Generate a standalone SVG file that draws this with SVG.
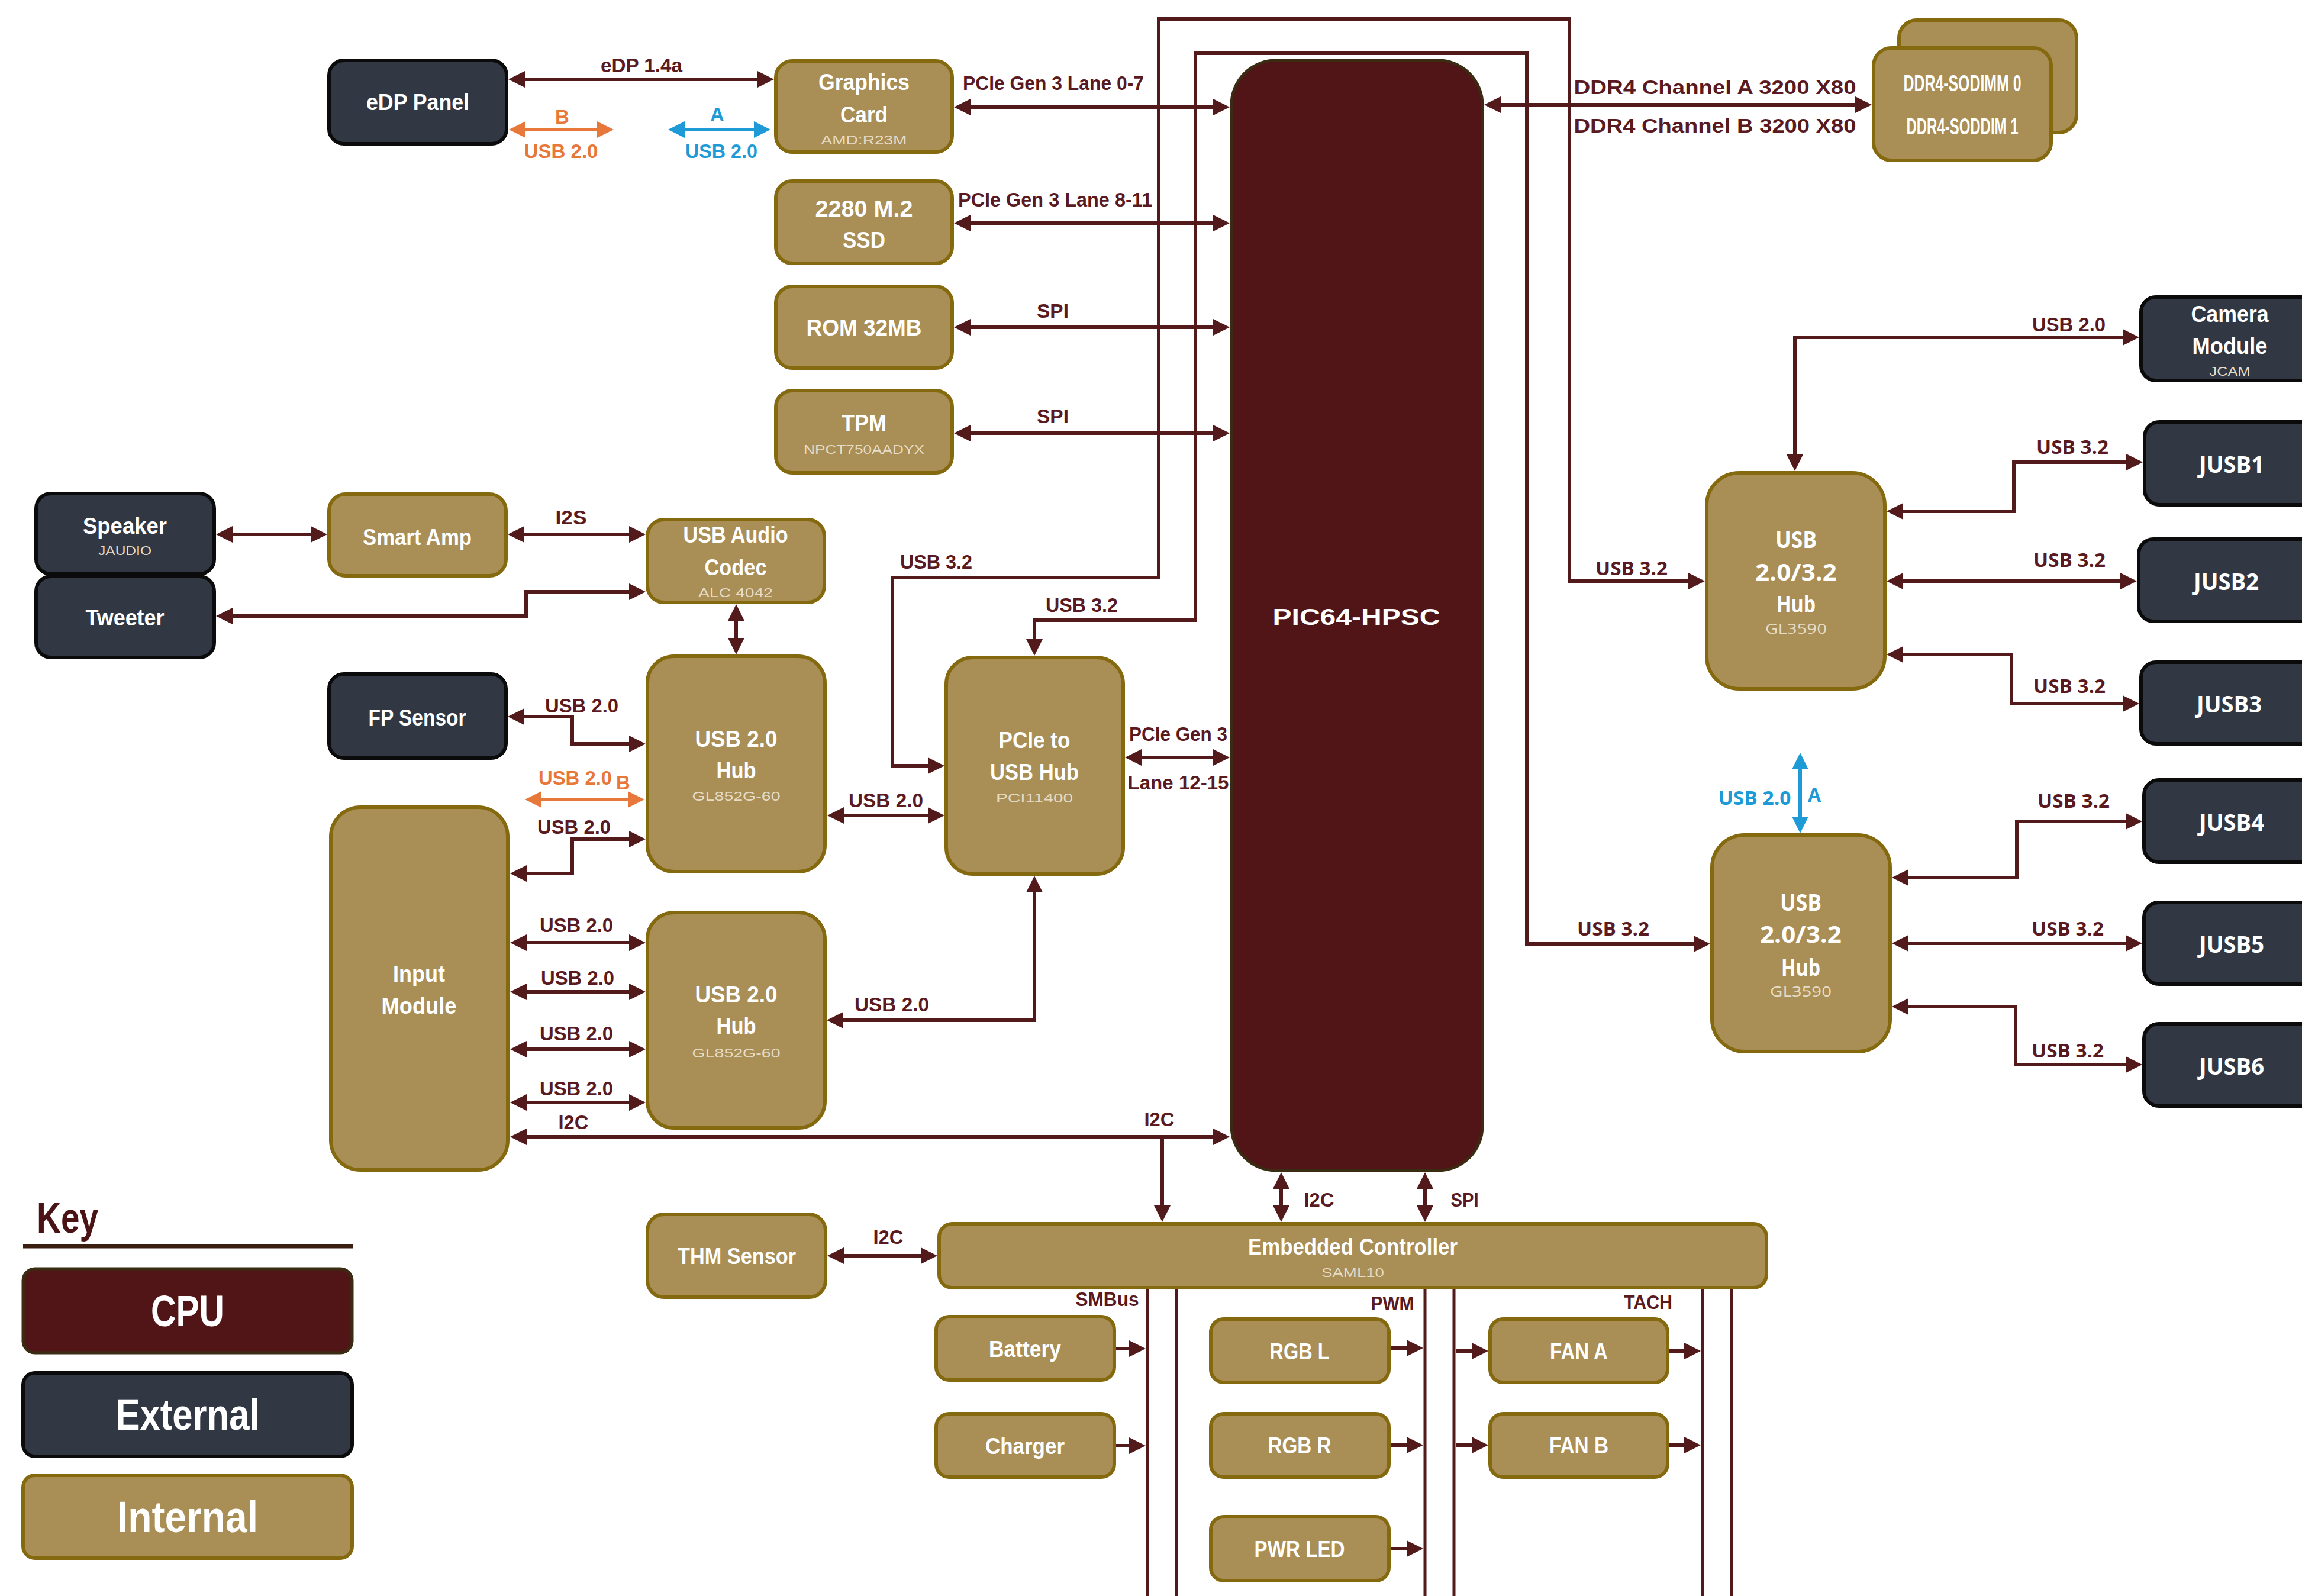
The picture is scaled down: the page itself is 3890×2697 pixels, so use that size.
<svg xmlns="http://www.w3.org/2000/svg" width="3890" height="2697" viewBox="0 0 3890 2697">
<defs>
<style>
.int{fill:#a98e55;stroke:#85690f;stroke-width:6}
.ext{fill:#313843;stroke:#0b0b0b;stroke-width:6}
.cpu{fill:#511417;stroke:#3a2c12;stroke-width:5}
.c{fill:none;stroke:#531a1c;stroke-width:6;marker-start:url(#ah);marker-end:url(#ah)}
.c1{fill:none;stroke:#531a1c;stroke-width:6;marker-end:url(#ah)}
.co{fill:none;stroke:#e8773a;stroke-width:6;marker-start:url(#ao);marker-end:url(#ao)}
.cb{fill:none;stroke:#1e9bd7;stroke-width:6;marker-start:url(#ab);marker-end:url(#ab)}
.bus{fill:none;stroke:#531a1c;stroke-width:5}
.t{font-family:"Liberation Sans",Arial,sans-serif;font-weight:bold;fill:#ffffff;text-anchor:middle;dominant-baseline:central;font-size:39px}
.s{font-family:"Liberation Sans",Arial,sans-serif;font-weight:normal;fill:#e6dcc6;text-anchor:middle;dominant-baseline:central;font-size:22px}
.l{font-family:"Liberation Sans",Arial,sans-serif;font-weight:bold;fill:#5a1a1f;text-anchor:middle;dominant-baseline:central;font-size:33px}
.w{font-family:"Open Sans","DejaVu Sans",sans-serif;font-weight:bold;fill:#ffffff;text-anchor:middle;dominant-baseline:central;font-size:40px}
.ws{font-family:"Open Sans","DejaVu Sans",sans-serif;font-weight:normal;fill:#e6dcc6;text-anchor:middle;dominant-baseline:central;font-size:24px}
.wl{font-family:"Open Sans","DejaVu Sans",sans-serif;font-weight:bold;fill:#5a1a1f;text-anchor:middle;dominant-baseline:central;font-size:32px}
.or{fill:#e8773a}
.bl{fill:#1e9bd7}
.k{font-size:74px}
</style>
<marker id="ah" viewBox="0 0 28 28" refX="22" refY="14" markerWidth="28" markerHeight="28" markerUnits="userSpaceOnUse" orient="auto-start-reverse"><path d="M0,0 L28,14 L0,28 z" fill="#531a1c"/></marker>
<marker id="ao" viewBox="0 0 28 28" refX="22" refY="14" markerWidth="28" markerHeight="28" markerUnits="userSpaceOnUse" orient="auto-start-reverse"><path d="M0,0 L28,14 L0,28 z" fill="#e8773a"/></marker>
<marker id="ab" viewBox="0 0 28 28" refX="22" refY="14" markerWidth="28" markerHeight="28" markerUnits="userSpaceOnUse" orient="auto-start-reverse"><path d="M0,0 L28,14 L0,28 z" fill="#1e9bd7"/></marker>
</defs>
<rect x="0" y="0" width="3890" height="2697" fill="#ffffff"/>

<g id="connectors">
<path class="c" d="M865,134 H1302"/>
<path class="co" d="M866,219 H1031"/>
<path class="cb" d="M1135,219 H1296"/>
<path class="c" d="M1618,181 H2072"/>
<path class="c" d="M1618,377 H2072"/>
<path class="c" d="M1618,553 H2072"/>
<path class="c" d="M1618,732 H2072"/>
<path class="c" d="M2514,177 H3157"/>
<path class="c" d="M1590,1294 H1508 V976 H1958 V32 H2652 V982 H2875"/>
<path class="c" d="M1748,1102 V1048 H2020 V90 H2580 V1595 H2884"/>
<path class="c" d="M3033,790 V570 H3609"/>
<path class="c" d="M3194,864 H3403 V781 H3615"/>
<path class="c" d="M3194,982 H3605"/>
<path class="c" d="M3194,1106 H3399 V1189 H3609"/>
<path class="c" d="M3203,1483 H3408 V1388 H3614"/>
<path class="c" d="M3203,1594 H3614"/>
<path class="c" d="M3203,1701 H3406 V1799 H3614"/>
<path class="cb" d="M3042,1278 V1402"/>
<path class="c" d="M371,903 H547"/>
<path class="c" d="M864,903 H1085"/>
<path class="c" d="M1085,1000 H889 V1041 H371"/>
<path class="c" d="M1244,1027 V1100"/>
<path class="c" d="M864,1211 H967 V1257 H1085"/>
<path class="co" d="M893,1351 H1083"/>
<path class="c" d="M1085,1418 H967 V1476 H868"/>
<path class="c" d="M868,1593 H1085"/>
<path class="c" d="M868,1676 H1085"/>
<path class="c" d="M868,1773 H1085"/>
<path class="c" d="M868,1863 H1085"/>
<path class="c" d="M868,1921 H2072"/>
<path class="c1" d="M1964,1921 V2059"/>
<path class="c" d="M1404,1378 H1590"/>
<path class="c" d="M1748,1486 V1724 H1403"/>
<path class="c" d="M1907,1280 H2072"/>
<path class="c" d="M2165,1987 V2059"/>
<path class="c" d="M2408,1987 V2059"/>
<path class="c" d="M1404,2122 H1578"/>
<path class="bus" d="M1939,2176 V2697 M1988,2176 V2697 M2408,2176 V2697 M2457,2176 V2697 M2877,2176 V2697 M2926,2176 V2697"/>
<path class="c1" d="M1883,2279 H1930"/>
<path class="c1" d="M1883,2443 H1930"/>
<path class="c1" d="M2347,2278 H2399"/>
<path class="c1" d="M2347,2442 H2399"/>
<path class="c1" d="M2347,2617 H2399"/>
<path class="c1" d="M2460,2283 H2509"/>
<path class="c1" d="M2818,2283 H2868"/>
<path class="c1" d="M2460,2442 H2509"/>
<path class="c1" d="M2818,2442 H2868"/>
</g>

<g id="labels">
<text class="l" x="1084" y="110" textLength="138" lengthAdjust="spacingAndGlyphs">eDP 1.4a</text>
<text class="l or" x="950" y="197">B</text>
<text class="l or" x="948" y="255" textLength="125" lengthAdjust="spacingAndGlyphs">USB 2.0</text>
<text class="l bl" x="1212" y="193">A</text>
<text class="l bl" x="1219" y="255" textLength="122" lengthAdjust="spacingAndGlyphs">USB 2.0</text>
<text class="l" x="1780" y="140" textLength="306" lengthAdjust="spacingAndGlyphs">PCIe Gen 3 Lane 0-7</text>
<text class="l" x="1783" y="337" textLength="328" lengthAdjust="spacingAndGlyphs">PCIe Gen 3 Lane 8-11</text>
<text class="l" x="1779" y="525" textLength="54" lengthAdjust="spacingAndGlyphs">SPI</text>
<text class="l" x="1779" y="703" textLength="54" lengthAdjust="spacingAndGlyphs">SPI</text>
<text class="l" x="2898" y="147" font-size="36" textLength="477" lengthAdjust="spacingAndGlyphs">DDR4 Channel A 3200 X80</text>
<text class="l" x="2898" y="212" font-size="36" textLength="477" lengthAdjust="spacingAndGlyphs">DDR4 Channel B 3200 X80</text>
<text class="l" x="965" y="874" textLength="53" lengthAdjust="spacingAndGlyphs">I2S</text>
<text class="l" x="983" y="1192" textLength="124" lengthAdjust="spacingAndGlyphs">USB 2.0</text>
<text class="l or" x="972" y="1314" textLength="124" lengthAdjust="spacingAndGlyphs">USB 2.0</text>
<text class="l or" x="1053" y="1322">B</text>
<text class="l" x="970" y="1397" textLength="124" lengthAdjust="spacingAndGlyphs">USB 2.0</text>
<text class="l" x="974" y="1563" textLength="124" lengthAdjust="spacingAndGlyphs">USB 2.0</text>
<text class="l" x="976" y="1652" textLength="124" lengthAdjust="spacingAndGlyphs">USB 2.0</text>
<text class="l" x="974" y="1746" textLength="124" lengthAdjust="spacingAndGlyphs">USB 2.0</text>
<text class="l" x="974" y="1839" textLength="124" lengthAdjust="spacingAndGlyphs">USB 2.0</text>
<text class="l" x="969" y="1896" textLength="51" lengthAdjust="spacingAndGlyphs">I2C</text>
<text class="l" x="1497" y="1352" textLength="126" lengthAdjust="spacingAndGlyphs">USB 2.0</text>
<text class="l" x="1582" y="949" textLength="122" lengthAdjust="spacingAndGlyphs">USB 3.2</text>
<text class="l" x="1828" y="1022" textLength="122" lengthAdjust="spacingAndGlyphs">USB 3.2</text>
<text class="l" x="1991" y="1240" textLength="166" lengthAdjust="spacingAndGlyphs">PCIe Gen 3</text>
<text class="l" x="1991" y="1322" textLength="171" lengthAdjust="spacingAndGlyphs">Lane 12-15</text>
<text class="l" x="1507" y="1697" textLength="126" lengthAdjust="spacingAndGlyphs">USB 2.0</text>
<text class="l" x="1959" y="1891" textLength="51" lengthAdjust="spacingAndGlyphs">I2C</text>
<text class="l" x="3496" y="548" textLength="124" lengthAdjust="spacingAndGlyphs">USB 2.0</text>
<text class="wl" x="2757" y="959" textLength="122" lengthAdjust="spacingAndGlyphs">USB 3.2</text>
<text class="wl" x="2726" y="1568" textLength="122" lengthAdjust="spacingAndGlyphs">USB 3.2</text>
<text class="wl" x="3502" y="754" textLength="122" lengthAdjust="spacingAndGlyphs">USB 3.2</text>
<text class="wl" x="3497" y="945" textLength="122" lengthAdjust="spacingAndGlyphs">USB 3.2</text>
<text class="wl" x="3497" y="1158" textLength="122" lengthAdjust="spacingAndGlyphs">USB 3.2</text>
<text class="wl" x="3504" y="1352" textLength="122" lengthAdjust="spacingAndGlyphs">USB 3.2</text>
<text class="wl" x="3494" y="1568" textLength="122" lengthAdjust="spacingAndGlyphs">USB 3.2</text>
<text class="wl" x="3494" y="1774" textLength="122" lengthAdjust="spacingAndGlyphs">USB 3.2</text>
<text class="wl bl" x="2965" y="1347" textLength="123" lengthAdjust="spacingAndGlyphs">USB 2.0</text>
<text class="wl bl" x="3066" y="1342">A</text>
<text class="l" x="2229" y="2027" font-size="36" textLength="51" lengthAdjust="spacingAndGlyphs">I2C</text>
<text class="l" x="2475" y="2027" font-size="36" textLength="47" lengthAdjust="spacingAndGlyphs">SPI</text>
<text class="l" x="1501" y="2090" textLength="51" lengthAdjust="spacingAndGlyphs">I2C</text>
<text class="l" x="1871" y="2195" textLength="107" lengthAdjust="spacingAndGlyphs">SMBus</text>
<text class="l" x="2353" y="2202" textLength="73" lengthAdjust="spacingAndGlyphs">PWM</text>
<text class="l" x="2785" y="2200" textLength="82" lengthAdjust="spacingAndGlyphs">TACH</text>
</g>

<g id="cpu">
<rect class="cpu" x="2081" y="102" width="424" height="1876" rx="75"/>
<text class="t" x="2292" y="1042" font-size="63" textLength="283" lengthAdjust="spacingAndGlyphs">PIC64-HPSC</text>
</g>

<g id="edp-panel">
<rect class="ext" x="556" y="102" width="300" height="141" rx="25"/>
<text class="t" x="706" y="172" textLength="174" lengthAdjust="spacingAndGlyphs">eDP Panel</text>
</g>
<g id="graphics-card">
<rect class="int" x="1311" y="103" width="298" height="154" rx="28"/>
<text class="t" x="1460" y="138" textLength="154" lengthAdjust="spacingAndGlyphs">Graphics</text>
<text class="t" x="1460" y="193" textLength="80" lengthAdjust="spacingAndGlyphs">Card</text>
<text class="s" x="1460" y="236" textLength="145" lengthAdjust="spacingAndGlyphs">AMD:R23M</text>
</g>
<g id="ssd">
<rect class="int" x="1311" y="306" width="298" height="139" rx="28"/>
<text class="t" x="1460" y="352" textLength="165" lengthAdjust="spacingAndGlyphs">2280 M.2</text>
<text class="t" x="1460" y="405" textLength="72" lengthAdjust="spacingAndGlyphs">SSD</text>
</g>
<g id="rom">
<rect class="int" x="1311" y="484" width="298" height="138" rx="28"/>
<text class="t" x="1460" y="553" textLength="195" lengthAdjust="spacingAndGlyphs">ROM 32MB</text>
</g>
<g id="tpm">
<rect class="int" x="1311" y="660" width="298" height="139" rx="28"/>
<text class="t" x="1460" y="714" textLength="76" lengthAdjust="spacingAndGlyphs">TPM</text>
<text class="s" x="1460" y="759" textLength="204" lengthAdjust="spacingAndGlyphs">NPCT750AADYX</text>
</g>
<g id="dimm">
<rect class="int" x="3209" y="34" width="300" height="190" rx="30"/>
<rect class="int" x="3166" y="81" width="300" height="190" rx="30"/>
<text class="t" x="3316" y="140" font-size="25" textLength="199" lengthAdjust="spacingAndGlyphs">DDR4-SODIMM 0</text>
<text class="t" x="3316" y="213" font-size="25" textLength="189" lengthAdjust="spacingAndGlyphs">DDR4-SODDIM 1</text>
</g>
<g id="camera">
<rect class="ext" x="3618" y="502" width="300" height="141" rx="25"/>
<text class="t" x="3768" y="530" textLength="131" lengthAdjust="spacingAndGlyphs">Camera</text>
<text class="t" x="3768" y="584" textLength="127" lengthAdjust="spacingAndGlyphs">Module</text>
<text class="s" x="3768" y="627" textLength="69" lengthAdjust="spacingAndGlyphs">JCAM</text>
</g>
<g id="jusb1"><rect class="ext" x="3624" y="713" width="300" height="140" rx="25"/><text class="w" x="3771" y="783" font-size="38" textLength="110" lengthAdjust="spacingAndGlyphs">JUSB1</text></g>
<g id="jusb2"><rect class="ext" x="3614" y="911" width="300" height="139" rx="25"/><text class="w" x="3762" y="981" font-size="38" textLength="110" lengthAdjust="spacingAndGlyphs">JUSB2</text></g>
<g id="jusb3"><rect class="ext" x="3618" y="1119" width="300" height="138" rx="25"/><text class="w" x="3767" y="1188" font-size="38" textLength="110" lengthAdjust="spacingAndGlyphs">JUSB3</text></g>
<g id="jusb4"><rect class="ext" x="3623" y="1318" width="300" height="139" rx="25"/><text class="w" x="3771" y="1388" font-size="38" textLength="110" lengthAdjust="spacingAndGlyphs">JUSB4</text></g>
<g id="jusb5"><rect class="ext" x="3623" y="1525" width="300" height="138" rx="25"/><text class="w" x="3771" y="1594" font-size="38" textLength="110" lengthAdjust="spacingAndGlyphs">JUSB5</text></g>
<g id="jusb6"><rect class="ext" x="3623" y="1730" width="300" height="139" rx="25"/><text class="w" x="3771" y="1800" font-size="38" textLength="110" lengthAdjust="spacingAndGlyphs">JUSB6</text></g>
<g id="usb-hub-r1">
<rect class="int" x="2884" y="799" width="301" height="365" rx="55"/>
<text class="w" x="3035" y="910" textLength="70" lengthAdjust="spacingAndGlyphs">USB</text>
<text class="w" x="3035" y="965" textLength="138" lengthAdjust="spacingAndGlyphs">2.0/3.2</text>
<text class="w" x="3035" y="1019" textLength="66" lengthAdjust="spacingAndGlyphs">Hub</text>
<text class="ws" x="3035" y="1061" textLength="104" lengthAdjust="spacingAndGlyphs">GL3590</text>
</g>
<g id="usb-hub-r2">
<rect class="int" x="2893" y="1411" width="301" height="366" rx="55"/>
<text class="w" x="3043" y="1523" textLength="70" lengthAdjust="spacingAndGlyphs">USB</text>
<text class="w" x="3043" y="1577" textLength="138" lengthAdjust="spacingAndGlyphs">2.0/3.2</text>
<text class="w" x="3043" y="1633" textLength="66" lengthAdjust="spacingAndGlyphs">Hub</text>
<text class="ws" x="3043" y="1674" textLength="104" lengthAdjust="spacingAndGlyphs">GL3590</text>
</g>
<g id="speaker">
<rect class="ext" x="61" y="834" width="301" height="136" rx="25"/>
<text class="t" x="211" y="888" textLength="142" lengthAdjust="spacingAndGlyphs">Speaker</text>
<text class="s" x="211" y="930" fill="#d8d8d8" textLength="90" lengthAdjust="spacingAndGlyphs">JAUDIO</text>
</g>
<g id="tweeter">
<rect class="ext" x="61" y="974" width="301" height="137" rx="25"/>
<text class="t" x="211" y="1043" textLength="133" lengthAdjust="spacingAndGlyphs">Tweeter</text>
</g>
<g id="smart-amp">
<rect class="int" x="556" y="835" width="299" height="138" rx="28"/>
<text class="t" x="705" y="907" textLength="184" lengthAdjust="spacingAndGlyphs">Smart Amp</text>
</g>
<g id="usb-audio-codec">
<rect class="int" x="1094" y="878" width="299" height="140" rx="28"/>
<text class="t" x="1243" y="903" textLength="177" lengthAdjust="spacingAndGlyphs">USB Audio</text>
<text class="t" x="1243" y="958" textLength="105" lengthAdjust="spacingAndGlyphs">Codec</text>
<text class="s" x="1243" y="1001" textLength="126" lengthAdjust="spacingAndGlyphs">ALC 4042</text>
</g>
<g id="fp-sensor">
<rect class="ext" x="556" y="1139" width="299" height="142" rx="25"/>
<text class="t" x="705" y="1212" textLength="165" lengthAdjust="spacingAndGlyphs">FP Sensor</text>
</g>
<g id="usb2-hub-1">
<rect class="int" x="1094" y="1109" width="300" height="364" rx="45"/>
<text class="t" x="1244" y="1248" textLength="139" lengthAdjust="spacingAndGlyphs">USB 2.0</text>
<text class="t" x="1244" y="1301" textLength="67" lengthAdjust="spacingAndGlyphs">Hub</text>
<text class="s" x="1244" y="1345" textLength="149" lengthAdjust="spacingAndGlyphs">GL852G-60</text>
</g>
<g id="pcie-usb-hub">
<rect class="int" x="1599" y="1111" width="299" height="366" rx="45"/>
<text class="t" x="1748" y="1250" textLength="121" lengthAdjust="spacingAndGlyphs">PCIe to</text>
<text class="t" x="1748" y="1304" textLength="150" lengthAdjust="spacingAndGlyphs">USB Hub</text>
<text class="s" x="1748" y="1348" textLength="130" lengthAdjust="spacingAndGlyphs">PCI11400</text>
</g>
<g id="input-module">
<rect class="int" x="559" y="1364" width="299" height="613" rx="50"/>
<text class="t" x="708" y="1645" textLength="88" lengthAdjust="spacingAndGlyphs">Input</text>
<text class="t" x="708" y="1699" textLength="127" lengthAdjust="spacingAndGlyphs">Module</text>
</g>
<g id="usb2-hub-2">
<rect class="int" x="1094" y="1542" width="300" height="364" rx="45"/>
<text class="t" x="1244" y="1680" textLength="139" lengthAdjust="spacingAndGlyphs">USB 2.0</text>
<text class="t" x="1244" y="1733" textLength="67" lengthAdjust="spacingAndGlyphs">Hub</text>
<text class="s" x="1244" y="1779" textLength="149" lengthAdjust="spacingAndGlyphs">GL852G-60</text>
</g>
<g id="thm-sensor">
<rect class="int" x="1094" y="2052" width="301" height="140" rx="28"/>
<text class="t" x="1245" y="2122" font-size="37" textLength="200" lengthAdjust="spacingAndGlyphs">THM Sensor</text>
</g>
<g id="embedded-controller">
<rect class="int" x="1587" y="2068" width="1398" height="108" rx="22"/>
<text class="t" x="2286" y="2106" font-size="36" textLength="354" lengthAdjust="spacingAndGlyphs">Embedded Controller</text>
<text class="s" x="2286" y="2150" textLength="106" lengthAdjust="spacingAndGlyphs">SAML10</text>
</g>
<g id="battery"><rect class="int" x="1582" y="2225" width="301" height="107" rx="22"/><text class="t" x="1732" y="2279" font-size="37" textLength="122" lengthAdjust="spacingAndGlyphs">Battery</text></g>
<g id="charger"><rect class="int" x="1582" y="2389" width="301" height="107" rx="22"/><text class="t" x="1732" y="2443" font-size="37" textLength="134" lengthAdjust="spacingAndGlyphs">Charger</text></g>
<g id="rgb-l"><rect class="int" x="2046" y="2229" width="301" height="107" rx="22"/><text class="t" x="2196" y="2283" font-size="37" textLength="101" lengthAdjust="spacingAndGlyphs">RGB L</text></g>
<g id="rgb-r"><rect class="int" x="2046" y="2389" width="301" height="107" rx="22"/><text class="t" x="2196" y="2442" font-size="37" textLength="107" lengthAdjust="spacingAndGlyphs">RGB R</text></g>
<g id="pwr-led"><rect class="int" x="2046" y="2563" width="301" height="108" rx="22"/><text class="t" x="2196" y="2617" font-size="37" textLength="153" lengthAdjust="spacingAndGlyphs">PWR LED</text></g>
<g id="fan-a"><rect class="int" x="2518" y="2229" width="300" height="107" rx="22"/><text class="t" x="2668" y="2283" font-size="37" textLength="98" lengthAdjust="spacingAndGlyphs">FAN A</text></g>
<g id="fan-b"><rect class="int" x="2518" y="2389" width="300" height="107" rx="22"/><text class="t" x="2668" y="2442" font-size="37" textLength="100" lengthAdjust="spacingAndGlyphs">FAN B</text></g>

<g id="key">
<text x="62" y="2083" font-family="'Liberation Sans',Arial,sans-serif" font-weight="bold" font-size="72" fill="#4a1416" textLength="104" lengthAdjust="spacingAndGlyphs">Key</text>
<line x1="39" y1="2106" x2="596" y2="2106" stroke="#3a1e10" stroke-width="7"/>
<rect class="cpu" x="39" y="2144" width="556" height="142" rx="20"/>
<text class="t k" x="317" y="2215" textLength="124" lengthAdjust="spacingAndGlyphs">CPU</text>
<rect class="ext" x="39" y="2320" width="556" height="141" rx="20"/>
<text class="t k" x="317" y="2390" textLength="243" lengthAdjust="spacingAndGlyphs">External</text>
<rect class="int" x="39" y="2493" width="556" height="140" rx="20"/>
<text class="t k" x="317" y="2563" textLength="238" lengthAdjust="spacingAndGlyphs">Internal</text>
</g>
</svg>
